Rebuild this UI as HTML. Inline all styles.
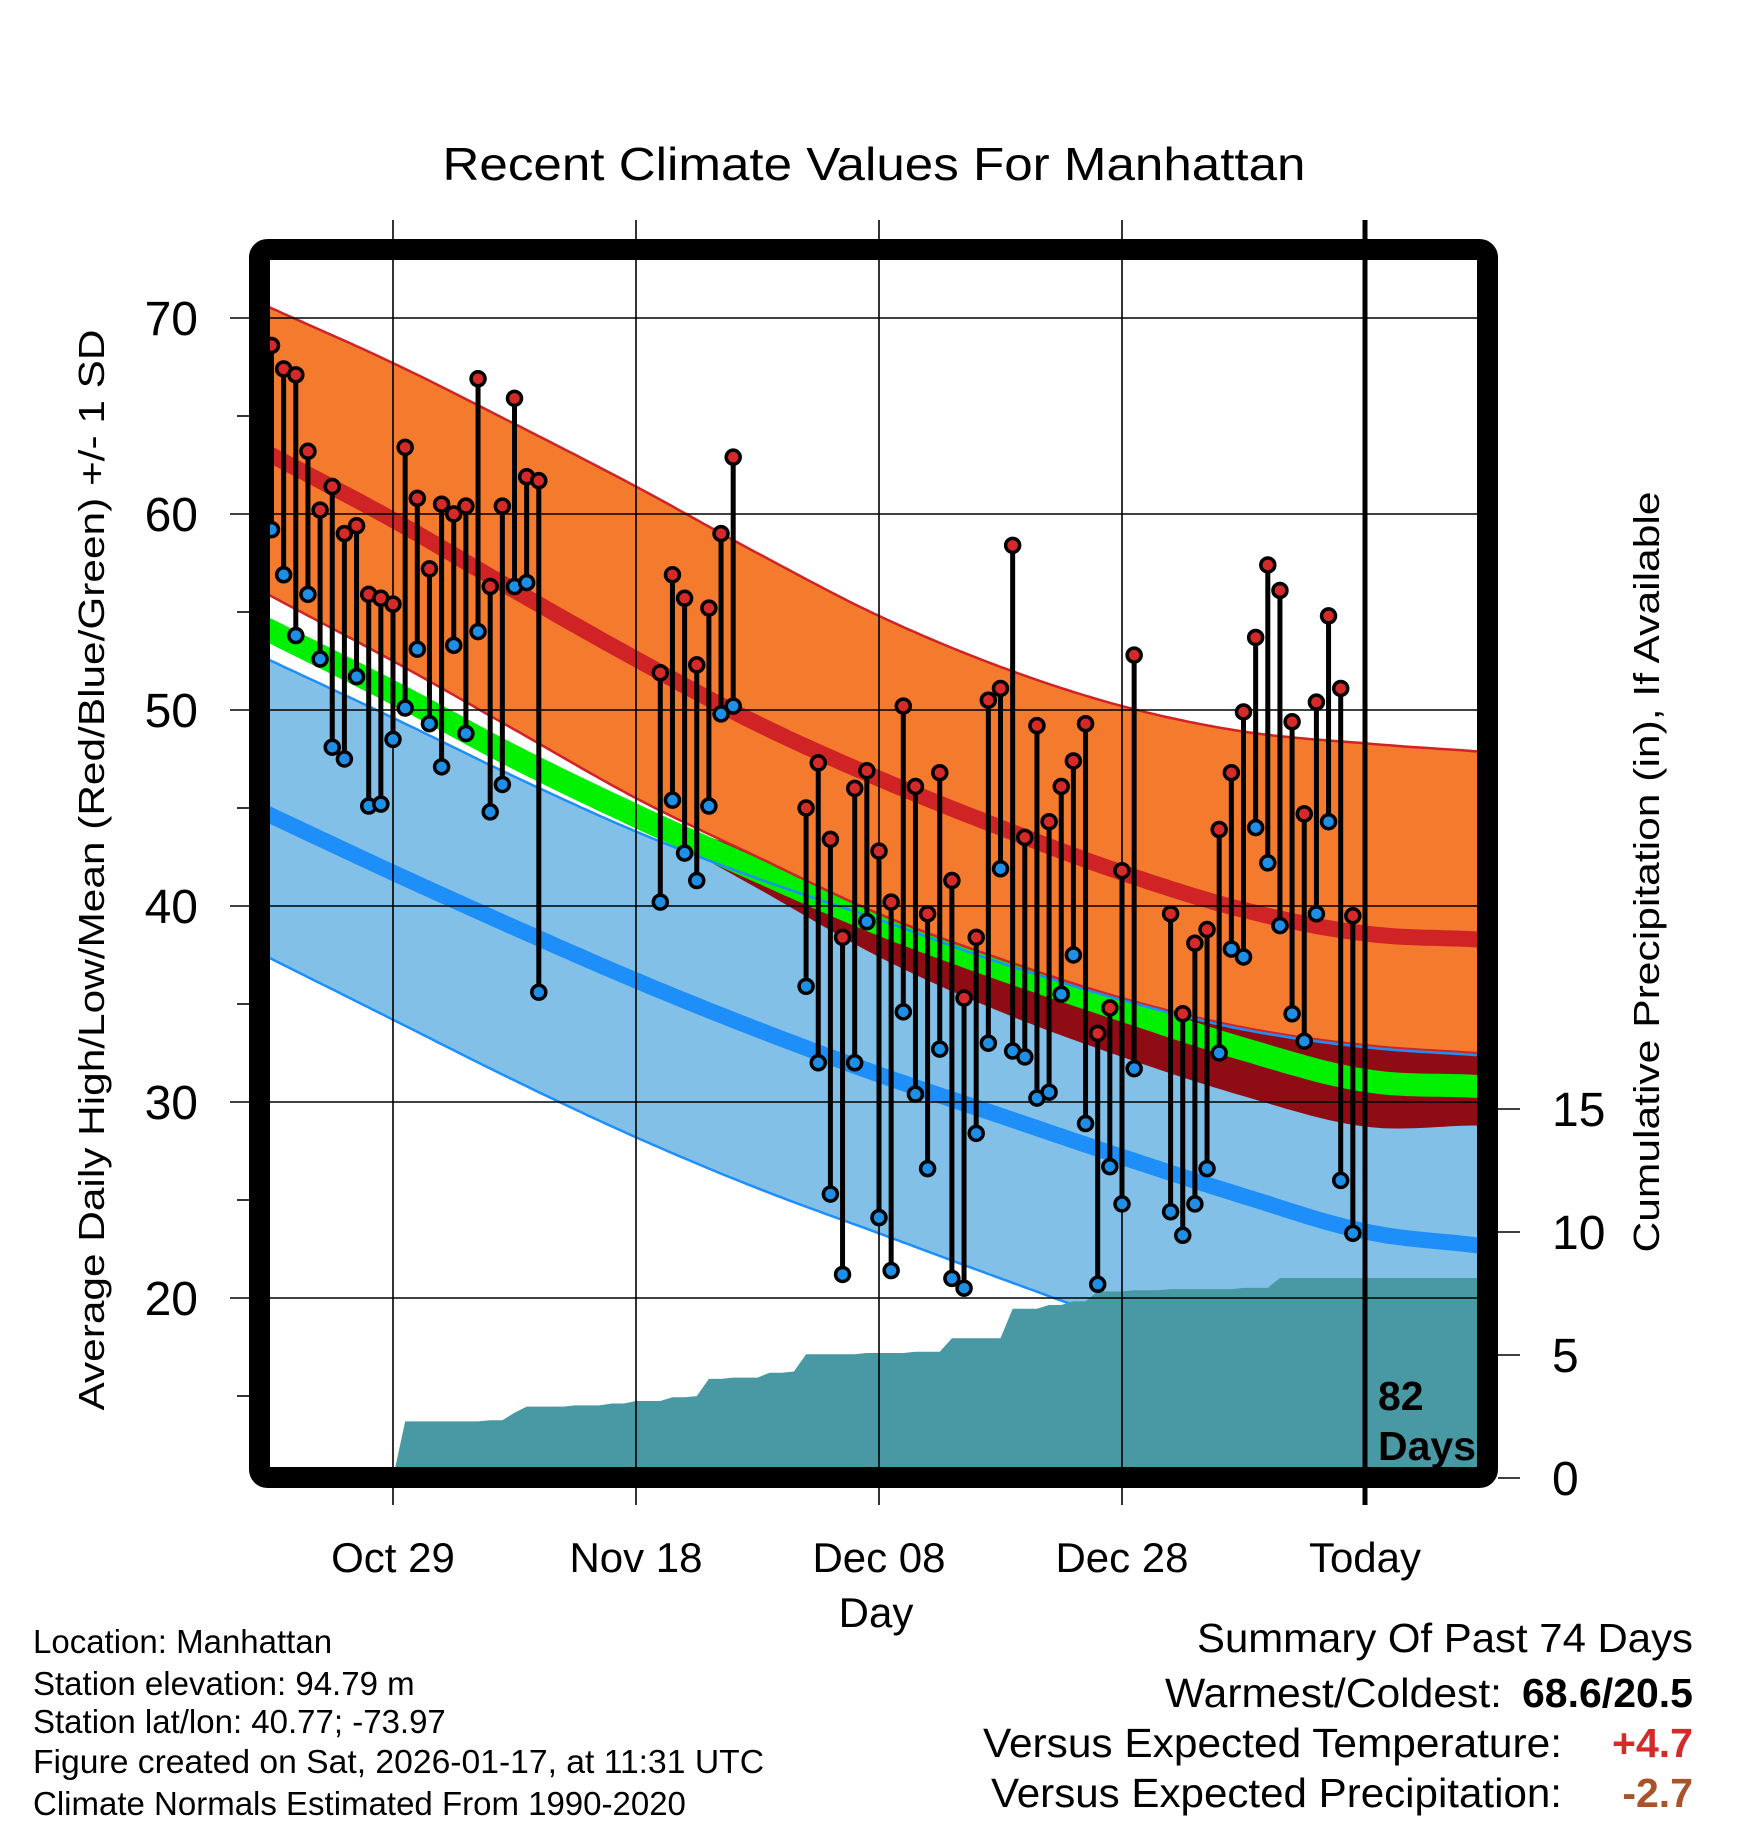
<!DOCTYPE html>
<html><head><meta charset="utf-8"><style>
html,body{margin:0;padding:0;background:#fff;}
svg{display:block;font-family:"Liberation Sans",Arial,sans-serif;}
</style></head><body>
<svg id="chart" width="1748" height="1828" viewBox="0 0 1748 1828">
<defs><clipPath id="plotclip"><rect x="270" y="260" width="1208" height="1208"/></clipPath></defs>
<g id="bg" clip-path="url(#plotclip)"></g>
<g id="grid"></g>
<g id="marks" clip-path="url(#plotclip)"></g>
<rect x="259.5" y="249.5" width="1228" height="1228" rx="8" fill="none" stroke="#000" stroke-width="21"/>
<g id="axes"></g>
<text x="874" y="180" text-anchor="middle" font-size="46" textLength="863" lengthAdjust="spacingAndGlyphs">Recent Climate Values For Manhattan</text>
<text transform="translate(104,870) rotate(-90)" text-anchor="middle" font-size="36" textLength="1081" lengthAdjust="spacingAndGlyphs">Average Daily High/Low/Mean (Red/Blue/Green) +/- 1 SD</text>
<text transform="translate(1659,872) rotate(-90)" text-anchor="middle" font-size="36" textLength="761" lengthAdjust="spacingAndGlyphs">Cumulative Precipitation (in), If Available</text>
<text x="876" y="1627" text-anchor="middle" font-size="42">Day</text>
<g font-size="33">
<text x="33" y="1653">Location: Manhattan</text>
<text x="33" y="1695">Station elevation: 94.79 m</text>
<text x="33" y="1733">Station lat/lon: 40.77; -73.97</text>
<text x="33" y="1773" textLength="731" lengthAdjust="spacingAndGlyphs">Figure created on Sat, 2026-01-17, at 11:31 UTC</text>
<text x="33" y="1815">Climate Normals Estimated From 1990-2020</text>
</g>
<g font-size="41">
<text x="1693" y="1652" text-anchor="end" textLength="496" lengthAdjust="spacingAndGlyphs">Summary Of Past 74 Days</text>
<text x="1502" y="1707" text-anchor="end" textLength="337" lengthAdjust="spacingAndGlyphs">Warmest/Coldest:</text>
<text x="1693" y="1707" text-anchor="end" font-weight="bold">68.6/20.5</text>
<text x="1562" y="1757" text-anchor="end" textLength="579" lengthAdjust="spacingAndGlyphs">Versus Expected Temperature:</text>
<text x="1693" y="1757" text-anchor="end" font-weight="bold" fill="#d42a2a">+4.7</text>
<text x="1562" y="1807" text-anchor="end" textLength="571" lengthAdjust="spacingAndGlyphs">Versus Expected Precipitation:</text>
<text x="1693" y="1807" text-anchor="end" font-weight="bold" fill="#a8532a">-2.7</text>
</g>
</svg>
<script>
// ---- data ----
const normDays = [0,10,20,30,40,50,60,70,80,90,99];
const highPlusSd = [70.5,67.7,64.6,61.4,58.0,54.8,52.2,50.2,48.9,48.3,47.9];
const highMean   = [63.0,59.7,56.1,52.6,49.3,46.5,44.0,41.7,39.8,38.6,38.3];
const highMinusSd= [55.8,52.5,49.0,45.5,42.5,39.6,37.3,35.3,33.8,32.9,32.5];
const meanTemp   = [54.0,50.9,47.6,44.6,41.8,39.1,36.8,34.7,32.7,31.1,30.8];
const meanSd     = [0.1,0.1,0.2,0.3,0.9,1.7,2.2,2.4,2.4,2.35,2.0];
const lowPlusSd  = [52.5,49.6,46.6,43.8,41.4,39.3,37.1,35.2,33.7,32.8,32.4];
const lowMean    = [44.6,41.7,38.9,36.2,33.7,31.4,29.3,27.2,25.2,23.4,22.7];
const lowMinusSd = [37.3,34.2,31.1,28.2,25.6,23.3,21.0,18.8,17.0,15.5,15.0];
const highs = [68.6,67.4,67.1,63.2,60.2,61.4,59.0,59.4,55.9,55.7,55.4,63.4,60.8,57.2,60.5,60.0,60.4,66.9,56.3,60.4,65.9,61.9,61.7,
 null,null,null,null,null,null,null,null,null,
 51.9,56.9,55.7,52.3,55.2,59.0,62.9,
 null,null,null,null,null,
 45.0,47.3,43.4,38.4,46.0,46.9,42.8,40.2,50.2,46.1,39.6,46.8,41.3,35.3,38.4,50.5,51.1,58.4,43.5,49.2,44.3,46.1,47.4,49.3,33.5,34.8,41.8,52.8,
 null,null,
 39.6,34.5,38.1,38.8,43.9,46.8,49.9,53.7,57.4,56.1,49.4,44.7,50.4,54.8,51.1,39.5];
const lows = [59.2,56.9,53.8,55.9,52.6,48.1,47.5,51.7,45.1,45.2,48.5,50.1,53.1,49.3,47.1,53.3,48.8,54.0,44.8,46.2,56.3,56.5,35.6,
 null,null,null,null,null,null,null,null,null,
 40.2,45.4,42.7,41.3,45.1,49.8,50.2,
 null,null,null,null,null,
 35.9,32.0,25.3,21.2,32.0,39.2,24.1,21.4,34.6,30.4,26.6,32.7,21.0,20.5,28.4,33.0,41.9,32.6,32.3,30.2,30.5,35.5,37.5,28.9,20.7,26.7,24.8,31.7,
 null,null,
 24.4,23.2,24.8,26.6,32.5,37.8,37.4,44.0,42.2,39.0,34.5,33.1,39.6,44.3,26.0,23.3];
const precipDayIdx = [11,18,20,21,25,28,30,33,35,36,38,41,43,44,49,53,56,61,64,66,68,71,74,80,83];
const precipAmt    = [2.3,0.05,0.3,0.25,0.05,0.08,0.1,0.15,0.05,0.7,0.05,0.2,0.05,0.7,0.05,0.05,0.55,1.2,0.15,0.15,0.4,0.05,0.05,0.05,0.4];
const yTicks = [20,30,40,50,60,70];
const yMinor = [15,25,35,45,55,65];
const pTicks = [0,5,10,15];
const xTickDays = [10,30,50,70,90];
const xTickLabels = ["Oct 29","Nov 18","Dec 08","Dec 28","Today"];
const todayDay = 90;
const daysLabel = ["82","Days"];

// ---- scales ----
const X0=271.5, DX=12.15;
function xOf(d){return X0+DX*d;}
function yOf(v){return 318+(70-v)*19.6;}
function pyOf(p){return 1478-24.6*p;}
const NS="http://www.w3.org/2000/svg";
function mk(tag,attrs,parent){const e=document.createElementNS(NS,tag);for(const k in attrs)e.setAttribute(k,attrs[k]);parent.appendChild(e);return e;}
function interp(arr,t){
  const n=normDays.length;
  let i=0;while(i<n-2&&t>normDays[i+1])i++;
  const p1=arr[i],p2=arr[i+1];
  const p0=i>0?arr[i-1]:2*p1-p2;
  const p3=i+2<n?arr[i+2]:2*p2-p1;
  const u=(t-normDays[i])/(normDays[i+1]-normDays[i]);
  return 0.5*((2*p1)+(-p0+p2)*u+(2*p0-5*p1+4*p2-p3)*u*u+(-p0+3*p1-3*p2+p3)*u*u*u);
}
const samples=[];for(let t=-0.5;t<=99.5;t+=0.5)samples.push(t);
function curvePts(fn){return samples.map(t=>xOf(t).toFixed(1)+","+yOf(fn(t)).toFixed(1));}
function band(fTop,fBot){return curvePts(fTop).concat(curvePts(fBot).reverse()).join(" ");}

const bg=document.getElementById('bg');
const blueBand=mk('polygon',{points:band(t=>interp(lowPlusSd,t),t=>interp(lowMinusSd,t)),fill:'#82c0e8'},bg);


const loBotLine=mk('polyline',{points:curvePts(t=>interp(lowMinusSd,t)).join(" "),fill:'none',stroke:'#1e8ff8','stroke-width':2.5},bg);


const loMeanLine=mk('polyline',{points:curvePts(t=>interp(lowMean,t)).join(" "),fill:'none',stroke:'#1e8ff8','stroke-width':16},bg);


const redBand=mk('polygon',{points:band(t=>interp(meanTemp,t)+interp(meanSd,t),t=>interp(meanTemp,t)-interp(meanSd,t)),fill:'#900c15'},bg);


const greenLine=mk('polyline',{points:curvePts(t=>interp(meanTemp,t)).join(" "),fill:'none',stroke:'#00f000','stroke-width':23},bg);


const loTopLine=mk('polyline',{points:curvePts(t=>interp(lowPlusSd,t)).join(" "),fill:'none',stroke:'#1e8ff8','stroke-width':2.5},bg);


const orangeBand=mk('polygon',{points:band(t=>interp(highPlusSd,t),t=>interp(highMinusSd,t)),fill:'#f47a2e'},bg);


const hiTopLine=mk('polyline',{points:curvePts(t=>interp(highPlusSd,t)).join(" "),fill:'none',stroke:'#d02326','stroke-width':2.5},bg);


const hiBotLine=mk('polyline',{points:curvePts(t=>interp(highMinusSd,t)).join(" "),fill:'none',stroke:'#d02326','stroke-width':2.5},bg);


loTopLine.parentNode.appendChild(loTopLine);
const hiMeanLine=mk('polyline',{points:curvePts(t=>interp(highMean,t)).join(" "),fill:'none',stroke:'#d02326','stroke-width':16},bg);



// precipitation
let cum=0;const cumArr=[];
for(let d=0;d<90;d++){const k=precipDayIdx.indexOf(d);if(k>=0)cum+=precipAmt[k];cumArr.push(cum);}
const pp=[];for(let d=0;d<90;d++)pp.push(xOf(d)+","+pyOf(cumArr[d]));
pp.push("1478,"+pyOf(cumArr[89]));pp.push("1478,1480");pp.push(xOf(0)+",1480");
const precip=mk('polygon',{points:pp.join(" "),fill:'#4899a3'},bg);



// grid
const grid=document.getElementById('grid');
yTicks.forEach(v=>{
  const l=mk('line',{x1:230,x2:1478,y1:yOf(v),y2:yOf(v),stroke:'#000','stroke-width':1.6},grid);
  
  
});
yMinor.forEach(v=>{
  const l=mk('line',{x1:237,x2:250,y1:yOf(v),y2:yOf(v),stroke:'#000','stroke-width':1.6},grid);
  
  
});
xTickDays.forEach((d,i)=>{
  const isToday=(d===todayDay);
  const l=mk('line',{x1:xOf(d),x2:xOf(d),y1:220,y2:1505,stroke:'#000','stroke-width':isToday?5:1.6},isToday?document.getElementById('chart'):grid);
  
  
});

// marks
const marks=document.getElementById('marks');
for(let d=0;d<highs.length;d++){
  if(highs[d]==null)continue;
  const s=mk('line',{x1:xOf(d),x2:xOf(d),y1:yOf(highs[d]),y2:yOf(lows[d]),stroke:'#000','stroke-width':5},marks);
  
  
}
for(let d=0;d<highs.length;d++){
  if(highs[d]==null)continue;
  const h=mk('circle',{cx:xOf(d),cy:yOf(highs[d]),r:7,fill:'#d62a2a',stroke:'#000','stroke-width':3.5},marks);
  
  
  const lo=mk('circle',{cx:xOf(d),cy:yOf(lows[d]),r:7,fill:'#1e8fe6',stroke:'#000','stroke-width':3.5},marks);
  
  
}

// axes labels
const axes=document.getElementById('axes');
yTicks.forEach(v=>{
  const t=mk('text',{x:198,y:yOf(v)+17,'text-anchor':'end','font-size':48},axes);t.textContent=v;
  
  
});
pTicks.forEach(p=>{
  const l=mk('line',{x1:1498,x2:1520,y1:pyOf(p),y2:pyOf(p),stroke:'#000','stroke-width':1.6},axes);
  
  
  const t=mk('text',{x:1552,y:pyOf(p)+17,'font-size':48},axes);t.textContent=p;
  
  
});
xTickDays.forEach((d,i)=>{
  const t=mk('text',{x:xOf(d),y:1572,'text-anchor':'middle','font-size':42},axes);t.textContent=xTickLabels[i];
  
  
});
daysLabel.forEach((s,i)=>{
  const t=mk('text',{x:1378,y:1410+i*50,'font-size':41,'font-weight':'bold'},document.getElementById('chart'));t.textContent=s;
  
  
});
</script>
</body></html>
